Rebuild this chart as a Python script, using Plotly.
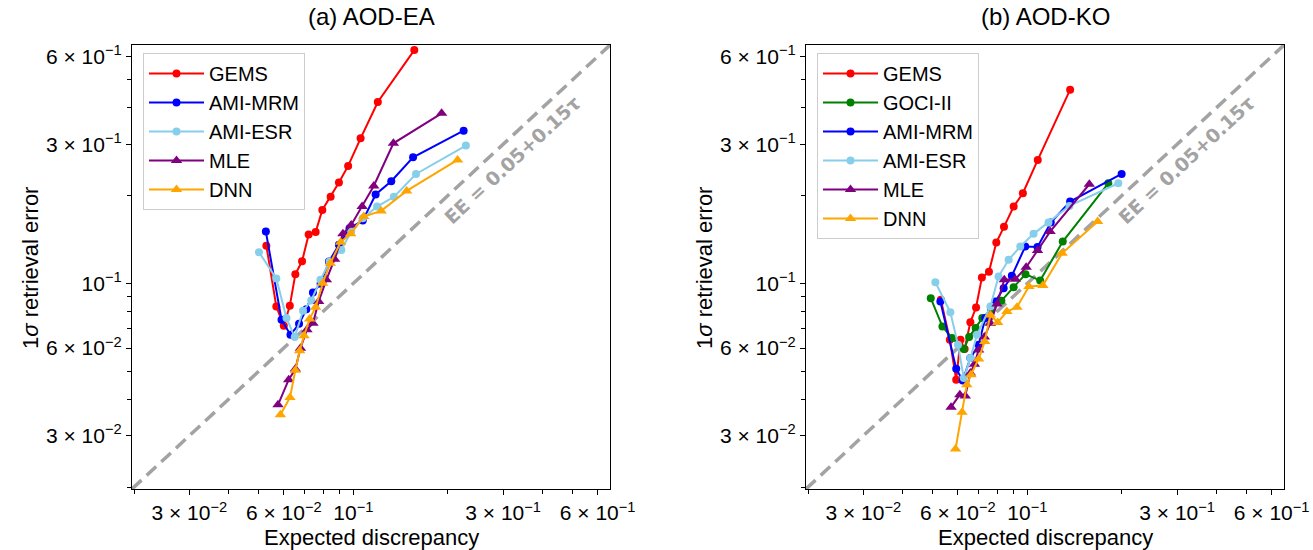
import math
import plotly.graph_objects as go

# ---------------- data ----------------
# (a) AOD-EA
gems_ea_x = [0.0528, 0.0568, 0.0600, 0.0627, 0.0653, 0.0686, 0.0720, 0.0758, 0.0796, 0.0846, 0.0899, 0.0962, 0.1054, 0.1196, 0.1563]
gems_ea_y = [0.1345, 0.0833, 0.0715, 0.0837, 0.1074, 0.1190, 0.1470, 0.1500, 0.1786, 0.1980, 0.2216, 0.2528, 0.3144, 0.4190, 0.6310]
amimrm_ea_x = [0.0526, 0.0590, 0.0630, 0.0671, 0.0708, 0.0743, 0.0786, 0.0836, 0.0899, 0.0972, 0.1071, 0.1177, 0.1320, 0.1549, 0.2245]
amimrm_ea_y = [0.1505, 0.0750, 0.0666, 0.0726, 0.0815, 0.0930, 0.0996, 0.1188, 0.1355, 0.1545, 0.1641, 0.2017, 0.2241, 0.2705, 0.3338]
amiesr_ea_x = [0.0500, 0.0568, 0.0612, 0.0650, 0.0691, 0.0734, 0.0785, 0.0840, 0.0915, 0.0984, 0.1071, 0.1190, 0.1345, 0.1583, 0.2282]
amiesr_ea_y = [0.1279, 0.1039, 0.0760, 0.0654, 0.0805, 0.0873, 0.1028, 0.1188, 0.1302, 0.1505, 0.1673, 0.1834, 0.1980, 0.2373, 0.2968]
mle_ea_x = [0.0575, 0.0622, 0.0653, 0.0678, 0.0711, 0.0743, 0.0775, 0.0820, 0.0871, 0.0926, 0.0984, 0.1066, 0.1161, 0.1341, 0.1910]
mle_ea_y = [0.0383, 0.0467, 0.0508, 0.0599, 0.0693, 0.0730, 0.0866, 0.1028, 0.1210, 0.1478, 0.1586, 0.1834, 0.2158, 0.3023, 0.3830]
dnn_ea_x = [0.0585, 0.0628, 0.0653, 0.0674, 0.0696, 0.0725, 0.0758, 0.0798, 0.0844, 0.0910, 0.0980, 0.1079, 0.1226, 0.1478, 0.2147]
dnn_ea_y = [0.0354, 0.0406, 0.0503, 0.0587, 0.0661, 0.0754, 0.0828, 0.1001, 0.1172, 0.1384, 0.1478, 0.1694, 0.1772, 0.2075, 0.2651]

# (b) AOD-KO
gems_ko_x = [0.0530, 0.0566, 0.0593, 0.0612, 0.0631, 0.0658, 0.0686, 0.0716, 0.0754, 0.0796, 0.0842, 0.0904, 0.0967, 0.1079, 0.1368]
gems_ko_y = [0.0878, 0.0640, 0.0467, 0.0640, 0.0595, 0.0736, 0.0826, 0.1047, 0.1095, 0.1380, 0.1562, 0.1834, 0.2037, 0.2651, 0.4617]
goci_ko_x = [0.0492, 0.0536, 0.0575, 0.0627, 0.0652, 0.0684, 0.0718, 0.0765, 0.0826, 0.0904, 0.0986, 0.1098, 0.1296, 0.1810]
goci_ko_y = [0.0889, 0.0711, 0.0649, 0.0595, 0.0654, 0.0702, 0.0760, 0.0811, 0.0871, 0.0970, 0.1075, 0.1022, 0.1391, 0.2204]
amimrm_ko_x = [0.0528, 0.0593, 0.0622, 0.0658, 0.0699, 0.0734, 0.0790, 0.0840, 0.0892, 0.0984, 0.1077, 0.1187, 0.1368, 0.1996]
amimrm_ko_y = [0.0866, 0.0509, 0.0464, 0.0554, 0.0615, 0.0760, 0.0866, 0.0962, 0.1061, 0.1337, 0.1333, 0.1616, 0.1908, 0.2373]
amiesr_ko_x = [0.0509, 0.0568, 0.0601, 0.0627, 0.0658, 0.0691, 0.0762, 0.0809, 0.0871, 0.0949, 0.1046, 0.1167, 0.1361, 0.1948]
amiesr_ko_y = [0.1009, 0.0796, 0.0615, 0.0473, 0.0554, 0.0666, 0.0833, 0.1055, 0.1204, 0.1337, 0.1478, 0.1616, 0.1843, 0.2204]
mle_ko_x = [0.0571, 0.0609, 0.0634, 0.0658, 0.0678, 0.0699, 0.0729, 0.0762, 0.0800, 0.0844, 0.0915, 0.0991, 0.1077, 0.1181, 0.1575]
mle_ko_y = [0.0376, 0.0415, 0.0411, 0.0492, 0.0528, 0.0591, 0.0654, 0.0730, 0.0850, 0.1028, 0.1033, 0.1136, 0.1296, 0.1505, 0.2187]
dnn_ko_x = [0.0590, 0.0619, 0.0641, 0.0661, 0.0699, 0.0731, 0.0762, 0.0804, 0.0860, 0.0926, 0.1011, 0.1120, 0.1290, 0.1674]
dnn_ko_y = [0.0270, 0.0361, 0.0449, 0.0486, 0.0550, 0.0632, 0.0779, 0.0734, 0.0800, 0.0828, 0.0975, 0.0983, 0.1268, 0.1629]

axis_limits = [0.0197, 0.657]
major_tickvals = [0.03, 0.06, 0.1, 0.3, 0.6]
major_ticktext = ["3 × 10<sup>−2</sup>", "6 × 10<sup>−2</sup>", "10<sup>−1</sup>",
                  "3 × 10<sup>−1</sup>", "6 × 10<sup>−1</sup>"]
minor_tickvals = [0.02, 0.04, 0.05, 0.07, 0.08, 0.09, 0.2, 0.4, 0.5]
panel_titles = ["(a) AOD-EA", "(b) AOD-KO"]
ee_label = "EE = 0.05+0.15τ"

FONT = "Liberation Sans, Arial, Helvetica, sans-serif"

series_ea = [
    ("GEMS", gems_ea_x, gems_ea_y, "red", "circle"),
    ("AMI-MRM", amimrm_ea_x, amimrm_ea_y, "blue", "circle"),
    ("AMI-ESR", amiesr_ea_x, amiesr_ea_y, "skyblue", "circle"),
    ("MLE", mle_ea_x, mle_ea_y, "purple", "triangle-up"),
    ("DNN", dnn_ea_x, dnn_ea_y, "orange", "triangle-up"),
]
series_ko = [
    ("GEMS", gems_ko_x, gems_ko_y, "red", "circle"),
    ("GOCI-II", goci_ko_x, goci_ko_y, "green", "circle"),
    ("AMI-MRM", amimrm_ko_x, amimrm_ko_y, "blue", "circle"),
    ("AMI-ESR", amiesr_ko_x, amiesr_ko_y, "skyblue", "circle"),
    ("MLE", mle_ko_x, mle_ko_y, "purple", "triangle-up"),
    ("DNN", dnn_ko_x, dnn_ko_y, "orange", "triangle-up"),
]

fig = go.Figure()

for xa, ya, leg, series in [("x", "y", "legend", series_ea), ("x2", "y2", "legend2", series_ko)]:
    # 1:1 expected-error reference line
    fig.add_trace(go.Scatter(
        x=axis_limits, y=axis_limits, mode="lines", xaxis=xa, yaxis=ya,
        line=dict(color="#a3a3a3", width=3.5, dash="13px,7px"),
        showlegend=False, hoverinfo="skip"))
    for name, xs, ys, color, symbol in series:
        fig.add_trace(go.Scatter(
            x=xs, y=ys, mode="lines+markers", name=name, xaxis=xa, yaxis=ya,
            legend=leg,
            line=dict(color=color, width=2),
            marker=dict(color=color, symbol=symbol,
                        size=8 if symbol == "circle" else 10,
                        line=dict(width=0))))

log_range = [math.log10(axis_limits[0]), math.log10(axis_limits[1])]

def axis_style(domain, anchor):
    return dict(
        type="log", range=log_range, domain=domain, anchor=anchor,
        automargin=False,
        showline=True, linecolor="black", linewidth=1.3, mirror=True,
        showgrid=False, zeroline=False,
        ticks="outside", ticklen=5, tickwidth=1, tickcolor="black",
        tickmode="array", tickvals=major_tickvals, ticktext=major_ticktext,
        tickfont=dict(family=FONT, size=21, color="black"),
        minor=dict(tickmode="array", tickvals=minor_tickvals, ticks="outside",
                   ticklen=3.5, tickwidth=1, tickcolor="black", showgrid=False),
    )

W, H = 1313, 550
xdom1 = [132 / W, 610 / W]
xdom2 = [806 / W, 1284 / W]
ydom = [1 - 489 / H, 1 - 45 / H]

fig.update_layout(
    width=W, height=H, autosize=False,
    margin=dict(l=0, r=0, t=0, b=0),
    paper_bgcolor="white", plot_bgcolor="white",
    font=dict(family=FONT, color="black"),
    xaxis=axis_style(xdom1, "y"),
    yaxis=axis_style(ydom, "x"),
    xaxis2=axis_style(xdom2, "y2"),
    yaxis2=axis_style(ydom, "x2"),
    legend=dict(x=143 / W, y=1 - 53 / H, xanchor="left", yanchor="top",
                bgcolor="rgba(255,255,255,0.85)", bordercolor="#cccccc", borderwidth=1,
                font=dict(family=FONT, size=20, color="black"), itemwidth=55,
                tracegroupgap=0),
    legend2=dict(x=817 / W, y=1 - 53 / H, xanchor="left", yanchor="top",
                 bgcolor="rgba(255,255,255,0.85)", bordercolor="#cccccc", borderwidth=1,
                 font=dict(family=FONT, size=20, color="black"), itemwidth=55,
                 tracegroupgap=0),
    hovermode=False,
)

annotations = []
for i, (xd, xref, yref, title) in enumerate([(xdom1, "x", "y", panel_titles[0]),
                                              (xdom2, "x2", "y2", panel_titles[1])]):
    cx = (xd[0] + xd[1]) / 2
    annotations.append(dict(text=title, x=cx, y=1 - 17 / H, xref="paper", yref="paper",
                            xanchor="center", yanchor="middle", showarrow=False,
                            font=dict(family=FONT, size=24, color="black")))
    annotations.append(dict(text="Expected discrepancy", x=cx, y=1 - 537 / H,
                            xref="paper", yref="paper", xanchor="center", yanchor="middle",
                            showarrow=False, font=dict(family=FONT, size=22, color="black")))
    annotations.append(dict(text="1<i>σ</i> retrieval error", x=(30 + 674 * i) / W,
                            y=1 - 268 / H, xref="paper", yref="paper",
                            xanchor="center", yanchor="middle", textangle=-90,
                            showarrow=False, font=dict(family=FONT, size=22, color="black")))
    annotations.append(dict(text="<b>" + ee_label + "</b>", x=-0.494, y=-0.577,
                            xref=xref, yref=yref, xanchor="center", yanchor="middle",
                            textangle=-42.9, showarrow=False,
                            font=dict(family="DejaVu Sans", size=19, color="#a3a3a3")))
fig.update_layout(annotations=annotations)

fig.write_html(
    "out.html",
    config=dict(displayModeBar=False, responsive=False),
    post_script="document.body.style.margin='0';document.body.style.overflow='hidden';",
)
